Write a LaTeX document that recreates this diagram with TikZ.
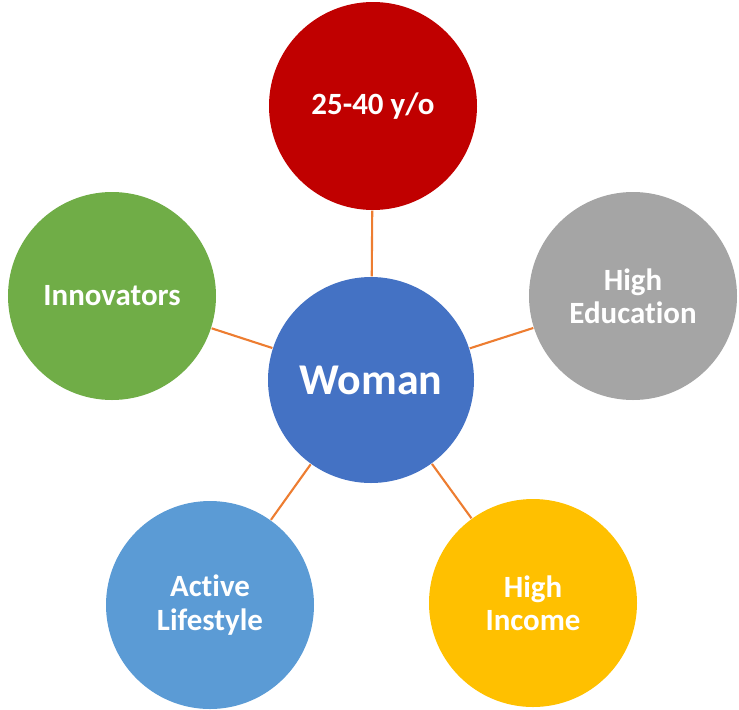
\documentclass[tikz,border=0pt]{standalone}
\usepackage{fontspec}
\setmainfont{Carlito}[Ligatures=NoCommon]
\usepackage{xcolor}
\usepackage{tikz}
\usetikzlibrary{positioning}
\definecolor{ageRed}{HTML}{C00000}
\definecolor{eduGray}{HTML}{A5A5A5}
\definecolor{innoGreen}{HTML}{70AD47}
\definecolor{womanBlue}{HTML}{4472C4}
\definecolor{lifeBlue}{HTML}{5B9BD5}
\definecolor{incomeGold}{HTML}{FFC000}
\definecolor{linkOrange}{HTML}{ED7D31}

\begin{document}
\begin{tikzpicture}[
  bubble/.style={circle,minimum size=2.08cm,inner sep=0pt,text=white,
    font=\fontsize{8.8pt}{9.5pt}\selectfont\bfseries,align=center},
  link/.style={draw=linkOrange,line width=0.6pt}]
\useasboundingbox (0,0) rectangle (7.39,7.09);
\node[bubble,fill=womanBlue,minimum size=2.06cm,font=\fontsize{12.5pt}{14pt}\selectfont\bfseries] (woman) at (3.71,3.29) {Woman};
\node[bubble,fill=ageRed] (age) at (3.73,6.03) {25-40 y/o};
\node[bubble,fill=eduGray] (edu) at (6.33,4.13) {High\\Education};
\node[bubble,fill=innoGreen] (inno) at (1.12,4.13) {Innovators};
\node[bubble,fill=lifeBlue] (life) at (2.10,1.04) {Active\\Lifestyle};
\node[bubble,fill=incomeGold] (income) at (5.33,1.06) {High\\Income};
\foreach \n in {age,edu,inno,life,income}{
  \draw[link] (woman) -- (\n);
}
\end{tikzpicture}
\end{document}
